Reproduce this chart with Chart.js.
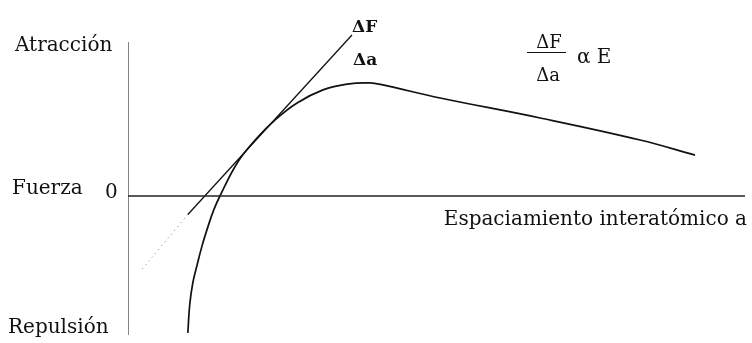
<!DOCTYPE html>
<html>
<head>
<meta charset="utf-8">
<script src="https://cdn.jsdelivr.net/npm/chart.js@4"></script>
<style>
  html, body { margin: 0; padding: 0; background: #fff; }
  #wrap { width: 752px; height: 343px; }
</style>
</head>
<body>
<div id="wrap"><canvas id="fuerza"></canvas></div>
<script>
// Force vs interatomic spacing curve (arbitrary units)
const spacing = [0.97, 1.0, 1.05, 1.12, 1.2, 1.3, 1.39, 1.49, 1.78, 2.09, 2.38, 2.74, 3.16, 3.55, 3.92, 4.13, 5.06, 6.68, 8.3, 9.19];
const force = [-4.72, -3.76, -3.0, -2.38, -1.72, -1.03, -0.48, 0, 1.17, 2.0, 2.62, 3.21, 3.66, 3.86, 3.9, 3.83, 3.38, 2.69, 1.93, 1.41];

// tangent ΔF/Δa : solid part and dotted extension below the axis
const tangentX = [3.63, 0.97];
const tangentY = [5.55, -0.64];
const tangentExtX = [0.97, 0.19];
const tangentExtY = [-0.64, -2.62];

// axis ranges
const xRange = [0, 10];
const yRange = [-4.79, 5.31];

function pts(xs, ys) {
  return xs.map((x, i) => ({ x: x, y: ys[i] }));
}

const serif = '"DejaVu Serif", "Liberation Serif", serif';

// labels drawn on top of the plot
const labelPlugin = {
  id: 'labels',
  afterDatasetsDraw(chart) {
    const ctx = chart.ctx;
    const sx = chart.scales.x, sy = chart.scales.y;
    const x0 = sx.getPixelForValue(0), y0 = sy.getPixelForValue(0);
    ctx.save();
    ctx.fillStyle = '#111';
    ctx.textBaseline = 'alphabetic';

    ctx.font = '20px ' + serif;
    ctx.textAlign = 'left';
    ctx.fillText('Atracción', 15, 51);
    ctx.fillText('Fuerza', 12, y0 - 2);
    ctx.fillText('Repulsión', 8, 333);
    ctx.fillText('0', x0 - 23, y0 + 2);
    ctx.textAlign = 'right';
    ctx.fillText('Espaciamiento interatómico a', 747, y0 + 29);

    // ΔF at the end of the tangent, Δa above the peak
    ctx.font = 'bold 17px ' + serif;
    ctx.textAlign = 'left';
    ctx.fillText('ΔF', sx.getPixelForValue(tangentX[0]), 32);
    ctx.fillText('Δa', sx.getPixelForValue(tangentX[0]) + 1, 65);

    // ΔF / Δa  α E
    ctx.font = '18px ' + serif;
    ctx.textAlign = 'center';
    ctx.fillText('ΔF', 549, 48);
    ctx.fillText('Δa', 548, 81);
    ctx.textAlign = 'left';
    ctx.font = '20px ' + serif;
    ctx.fillText('α E', 577, 63);
    ctx.strokeStyle = '#111';
    ctx.lineWidth = 1.2;
    ctx.beginPath();
    ctx.moveTo(527, 52.5);
    ctx.lineTo(566, 52.5);
    ctx.stroke();
    ctx.restore();
  }
};

new Chart(document.getElementById('fuerza'), {
  type: 'scatter',
  data: {
    datasets: [
      {
        label: 'eje vertical',
        data: pts([0, 0], yRange),
        showLine: true,
        borderColor: '#333',
        borderWidth: 1.2,
        pointRadius: 0
      },
      {
        label: 'eje horizontal',
        data: pts(xRange, [0, 0]),
        showLine: true,
        borderColor: '#222',
        borderWidth: 1.3,
        pointRadius: 0
      },
      {
        label: 'tangente',
        data: pts(tangentX, tangentY),
        showLine: true,
        borderColor: '#111',
        borderWidth: 1.3,
        pointRadius: 0
      },
      {
        label: 'tangente (prolongación)',
        data: pts(tangentExtX, tangentExtY),
        showLine: true,
        borderColor: '#777',
        borderWidth: 1,
        borderDash: [1, 4],
        pointRadius: 0
      },
      {
        label: 'fuerza',
        data: pts(spacing, force),
        showLine: true,
        borderColor: '#111',
        borderWidth: 1.7,
        tension: 0.4,
        pointRadius: 0
      }
    ]
  },
  options: {
    responsive: true,
    maintainAspectRatio: false,
    animation: false,
    layout: { padding: { top: 22, bottom: 2, left: 128, right: 7 } },
    plugins: {
      legend: { display: false },
      tooltip: { enabled: false }
    },
    scales: {
      x: { type: 'linear', min: 0, max: 10, display: false },
      y: { type: 'linear', min: -5, max: 6, display: false }
    }
  },
  plugins: [labelPlugin]
});
</script>
</body>
</html>
